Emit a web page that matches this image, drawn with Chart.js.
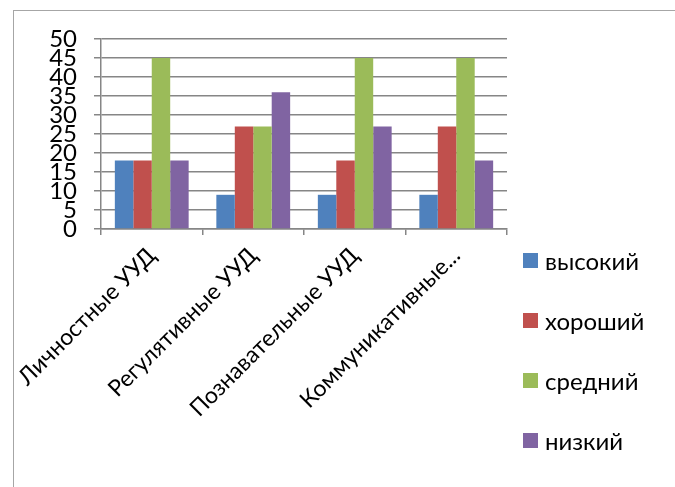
<!DOCTYPE html>
<html>
<head>
<meta charset="utf-8">
<script src="https://cdn.jsdelivr.net/npm/chart.js@4"></script>
<style>
  body { margin: 0; background: #fff; overflow: hidden; }
  #wrap { position: relative; width: 675px; height: 487px; }
  #frame { position: absolute; left: 13px; top: 10px; width: 700px; height: 500px; border: 1.5px solid #a6a6a6; }
  canvas { position: absolute; left: 0; top: 0; }
  #legend { position: absolute; left: 523px; top: 230px; font-family: Lato, sans-serif; font-size: 24px; color: #000; }
  .item { height: 60px; display: flex; align-items: center; }
  .box { width: 15px; height: 15px; margin-right: 7px; }
</style>
</head>
<body>
<div id="wrap">
  <div id="frame"></div>
  <canvas id="myChart" width="675" height="487"></canvas>
  <div id="legend"></div>
</div>
<script>
  const categories = ['Личностные УУД', 'Регулятивные УУД', 'Познавательные УУД', 'Коммуникативные...'];
  const seriesNames = ['высокий', 'хороший', 'средний', 'низкий'];
  const vysokiy = [18, 9, 9, 9];
  const khoroshiy = [18, 27, 18, 27];
  const sredniy = [45, 27, 45, 45];
  const nizkiy = [18, 36, 27, 18];
  const yTicks = [0, 5, 10, 15, 20, 25, 30, 35, 40, 45, 50];

  const colors = ['#4F81BD', '#C0504D', '#9BBB59', '#8064A2'];
  const gridColor = '#868686';

  Chart.defaults.font.family = 'Lato, sans-serif';
  Chart.defaults.color = '#000';

  const ctx = document.getElementById('myChart').getContext('2d');
  const myChart = new Chart(ctx, {
    type: 'bar',
    data: {
      labels: categories,
      datasets: [vysokiy, khoroshiy, sredniy, nizkiy].map((vals, i) => ({
        label: seriesNames[i],
        data: vals,
        backgroundColor: colors[i],
        borderWidth: 0,
        categoryPercentage: 4 / 5.5,
        barPercentage: 1
      }))
    },
    options: {
      responsive: false,
      animation: false,
      events: [],
      layout: { padding: { top: 39, right: 168, bottom: 0, left: 0 } },
      plugins: { legend: { display: false }, tooltip: { enabled: false } },
      scales: {
        x: {
          grid: { offset: true, drawOnChartArea: false, tickLength: 6, color: gridColor, lineWidth: 1.5 },
          border: { color: gridColor, width: 1.5 },
          ticks: { minRotation: 45, maxRotation: 45, autoSkip: false, font: { size: 23 }, padding: 7 },
          afterFit: s => { s.height = 258; }
        },
        y: {
          min: 0,
          max: 50,
          afterBuildTicks: s => { s.ticks = yTicks.map(v => ({ value: v })); },
          grid: { color: gridColor, lineWidth: 1.5, tickLength: 7 },
          border: { color: gridColor, width: 1.5 },
          ticks: { autoSkip: false, font: { size: 24 }, padding: 17 },
          afterFit: s => { s.width = 101; }
        }
      }
    }
  });

  const legendEl = document.getElementById('legend');
  myChart.data.datasets.forEach(ds => {
    const row = document.createElement('div');
    row.className = 'item';
    row.innerHTML = '<span class="box" style="background:' + ds.backgroundColor + '"></span><span>' + ds.label + '</span>';
    legendEl.appendChild(row);
  });
</script>
</body>
</html>
